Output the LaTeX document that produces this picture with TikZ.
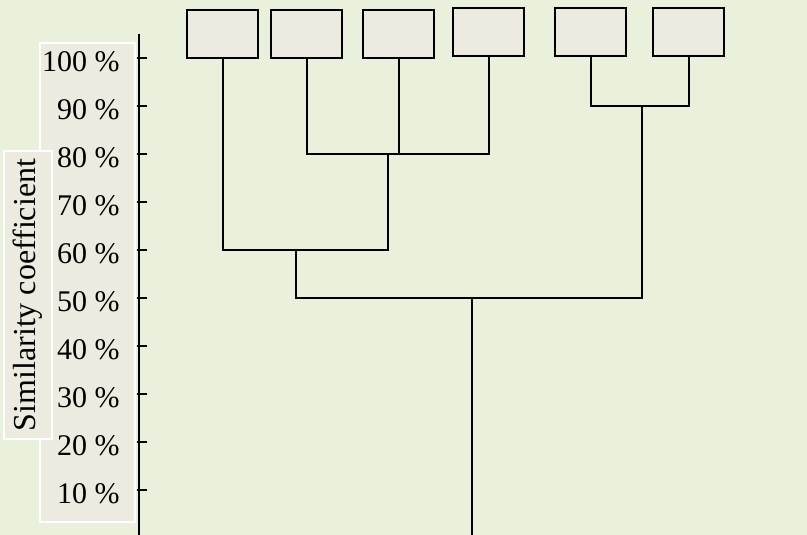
\documentclass[tikz,border=0pt]{standalone}
\usepackage{fontspec}
\setmainfont{Liberation Serif}
\usepackage{tikz}
\usetikzlibrary{positioning}
\definecolor{bggreen}{RGB}{233,240,220}
\definecolor{leafgray}{RGB}{237,235,224}

\begin{document}
\begin{tikzpicture}[
  x=0.75pt, y=-0.75pt,
  leaf/.style={draw, fill=leafgray, line width=1.5pt, minimum width=53.25pt,
               minimum height=36pt, inner sep=0pt},
  link/.style={line width=1.5pt},
  pct/.style={anchor=east, inner sep=0pt, font=\fontsize{22.5}{22.5}\selectfont},
]
  \fill[bggreen] (0,0) rectangle (807,535);
  \useasboundingbox (0,0) rectangle (807,535);

  % scale panel
  \draw[white, fill=leafgray, line width=1.2pt] (40,43) rectangle (135,522);
  \node[draw=white, fill=leafgray, line width=1.2pt, rotate=90,
        minimum width=216pt, minimum height=36pt, inner sep=0pt,
        font=\fontsize{24}{24}\selectfont]
    (ylabel) at (28,295) {Similarity coefficient};

  \draw[link] (139,34) -- (139,535);
  \foreach \p [count=\i] in {10,20,...,100} {
    \draw[link] (137,538-48*\i) -- (147,538-48*\i);
    \node[pct] (l\p) at (120,542-48*\i) {\p\ \%};
  }

  % leaves
  \node[leaf] (a) at (222.5,34) {};
  \node[leaf] (b) at (306.5,34) {};
  \node[leaf] (c) at (398.5,34) {};
  \node[leaf] (d) at (488.5,32) {};
  \node[leaf] (e) at (590.5,32) {};
  \node[leaf] (f) at (688.5,32) {};

  % merge points
  \coordinate (bcd) at (388,154);
  \coordinate (ef) at (642,106);
  \coordinate (abcd) at (296,250);
  \coordinate (root) at (472,298);
  \coordinate (base) at (472,535);

  \draw[link] (b.south) |- (d.south |- bcd) -- (d.south);
  \draw[link] (c.south) -- (c.south |- bcd);
  \draw[link] (e.south) |- (f.south |- ef) -- (f.south);
  \draw[link] (a.south) |- (bcd |- abcd) -- (bcd);
  \draw[link] (ef) -- (ef |- root) -| (abcd);
  \draw[link] (root) -- (base);
\end{tikzpicture}
\end{document}
